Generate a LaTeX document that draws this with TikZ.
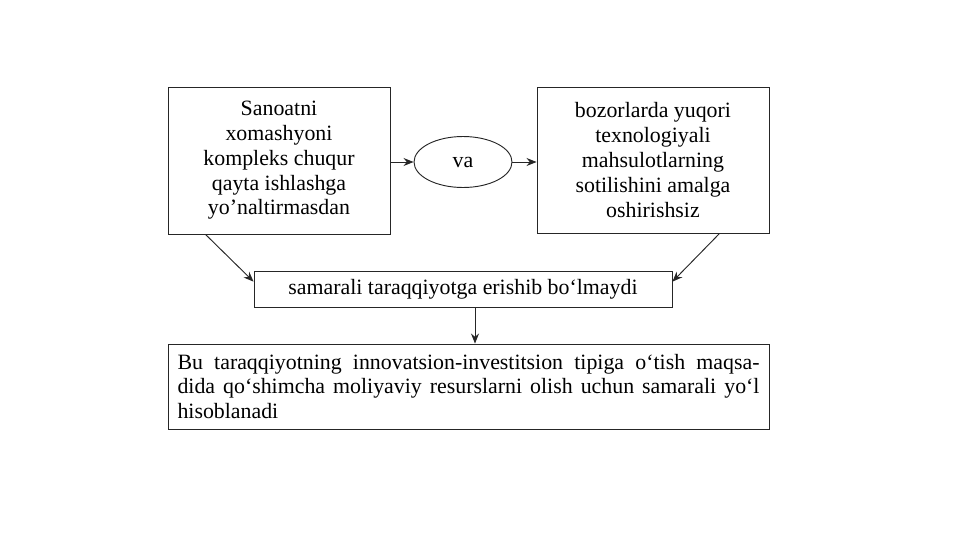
\documentclass[tikz,border=0pt]{standalone}
\usepackage{fontspec}
\setmainfont{Liberation Serif}
\usetikzlibrary{shapes.geometric,arrows.meta,calc}
\begin{document}
\begin{tikzpicture}[x=0.75pt,y=-0.75pt,
  every node/.style={font=\fontsize{16.4pt}{18.6pt}\selectfont, text=black},
  boxed/.style={draw=black!85, line width=0.7pt, rectangle, inner sep=2pt},
  oval/.style={draw=black!85, line width=0.7pt, ellipse, inner sep=1pt},
  conn/.style={draw=black!85, line width=0.7pt, -{Stealth[length=7.5pt,width=6pt]}}]
\useasboundingbox (0,0) rectangle (961,540);
\node[boxed, minimum width=166.5pt, minimum height=110.25pt, align=center] (b1) at (279,160.5)
  {Sanoatni\\xomashyoni\\kompleks chuqur\\qayta ishlashga\\yo’naltirmasdan};
\node[oval, minimum width=73.5pt, minimum height=38.25pt] (el) at (463,162) {va};
\node[boxed, minimum width=174pt, minimum height=109.5pt, align=center] (b2) at (653,160)
  {bozorlarda yuqori\\texnologiyali\\mahsulotlarning\\sotilishini amalga\\oshirishsiz};
\node[boxed, minimum width=313.5pt, minimum height=27pt] (b3) at (463,289)
  {samarali taraqqiyotga erishib bo‘lmaydi};
\node[boxed, text width=436.5pt, inner xsep=7.1pt, minimum height=63.75pt, align=justify] (b4) at (468.5,386.5)
  {\tolerance=10000 Bu taraqqiyotning innovatsion-investitsion tipiga o‘tish maqsa-\linebreak dida qo‘shimcha moliyaviy resurslarni olish uchun samarali yo‘l\linebreak hisoblanadi};
\draw[conn] (b1.east |- el.west) -- (el.west);
\draw[conn] (el.east) -- (el.east -| b2.west);
\draw[conn] ($(b1.south west)+(38,0)$) -- ($(b3.north west)!0.3!(b3.south west)$);
\draw[conn] ($(b2.south west)+(183,0)$) -- ($(b3.north east)!0.3!(b3.south east)$);
\coordinate (v1) at ($(b3.south)+(12,0)$);
\draw[conn] (v1) -- (v1 |- b4.north);
\end{tikzpicture}
\end{document}
